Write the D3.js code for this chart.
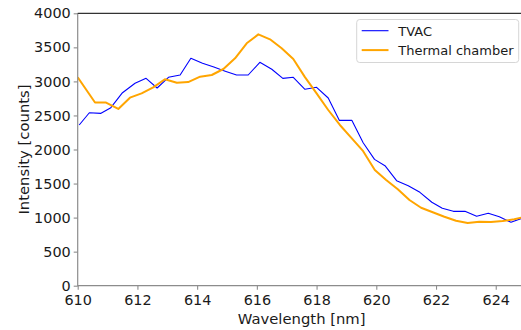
<!DOCTYPE html>
<html>
<head>
<meta charset="utf-8">
<script src="https://cdn.jsdelivr.net/npm/d3@7"></script>
<style>
  html, body { margin: 0; padding: 0; background: #fff; }
  svg { display: block; }
  text { font-family: "DejaVu Sans", sans-serif; }
</style>
</head>
<body>
<script>
// ---- data ----
const tvacWavelength = [610.05, 610.39, 610.78, 611.11, 611.50, 611.92, 612.29, 612.66, 613.04, 613.43,
  613.79, 614.18, 614.56, 614.94, 615.32, 615.71, 616.10, 616.50, 616.87, 617.22,
  617.61, 618.00, 618.39, 618.76, 619.18, 619.56, 619.94, 620.29, 620.68, 621.07,
  621.46, 621.86, 622.21, 622.58, 622.97, 623.36, 623.75, 624.12, 624.51, 624.90];
const tvacIntensity = [2360, 2540, 2531, 2614, 2834, 2972, 3045, 2903, 3060, 3094,
  3339, 3266, 3210, 3150, 3094, 3094, 3280, 3178, 3045, 3060,
  2884, 2913, 2756, 2428, 2428, 2100, 1855, 1762, 1542, 1468,
  1371, 1225, 1136, 1092, 1092, 1019, 1063, 1013, 931, 995];

const thermalWavelength = [610.00, 610.58, 610.95, 611.36, 611.75, 612.14, 612.53, 612.92, 613.32, 613.70,
  614.10, 614.49, 614.88, 615.27, 615.66, 616.05, 616.44, 616.83, 617.22, 617.61,
  618.00, 618.39, 618.78, 619.18, 619.56, 619.95, 620.33, 620.72, 621.11, 621.50,
  621.89, 622.28, 622.67, 623.06, 623.45, 623.84, 624.23, 624.62, 625.01];
const thermalIntensity = [3060, 2690, 2690, 2595, 2761, 2825, 2913, 3031, 2981, 2990,
  3069, 3094, 3182, 3339, 3559, 3691, 3618, 3486, 3329, 3063,
  2825, 2580, 2360, 2164, 1975, 1700, 1552, 1416, 1258, 1145,
  1078, 1013, 954, 921, 940, 935, 950, 975, 1013];

const xTicks = [610, 612, 614, 616, 618, 620, 622, 624];
const yTicks = [0, 500, 1000, 1500, 2000, 2500, 3000, 3500, 4000];
const seriesNames = ["TVAC", "Thermal chamber"];
const seriesColors = ["#0000ff", "#ffa500"];

// ---- layout ----
const W = 521, H = 330;
const L = 77.7, R = 525.6, T = 13.3, B = 285.7;
const FS = 14.4, FS_LABEL = 14.8, FS_LEG = 13;

const x = d3.scaleLinear().domain([610, 625]).range([L, R]);
const y = d3.scaleLinear().domain([0, 4000]).range([B, T]);

const svg = d3.select("body").append("svg").attr("width", W).attr("height", H);

svg.append("defs").append("clipPath").attr("id", "plotclip")
  .append("rect").attr("x", L).attr("y", T).attr("width", R - L).attr("height", B - T);

// lines
const series = [
  { name: seriesNames[0], color: seriesColors[0], xs: tvacWavelength, ys: tvacIntensity, w: 1.1 },
  { name: seriesNames[1], color: seriesColors[1], xs: thermalWavelength, ys: thermalIntensity, w: 2.0 }
];
const line = d3.line().x(d => x(d[0])).y(d => y(d[1]));
const g = svg.append("g").attr("clip-path", "url(#plotclip)");
series.forEach(s => {
  g.append("path")
    .datum(s.xs.map((v, i) => [v, s.ys[i]]))
    .attr("fill", "none")
    .attr("stroke", s.color)
    .attr("stroke-width", s.w)
    .attr("stroke-linejoin", "round")
    .attr("d", line);
});

// axes
const xAxis = svg.append("g").attr("transform", `translate(0,${B})`)
  .call(d3.axisBottom(x).tickValues(xTicks).tickSize(4).tickPadding(5).tickFormat(d3.format("d")));
const yAxis = svg.append("g").attr("transform", `translate(${L},0)`)
  .call(d3.axisLeft(y).tickValues(yTicks).tickSize(4).tickPadding(3).tickFormat(d3.format("d")));
[xAxis, yAxis].forEach(a => {
  a.select(".domain").remove();
  a.selectAll(".tick line").attr("stroke", "#8c8c8c").attr("stroke-width", 1.1);
  a.selectAll(".tick text").attr("fill", "#1a1a1a").style("font-size", FS + "px")
    .style("font-family", "'DejaVu Sans', sans-serif");
});

// spines
svg.append("line").attr("x1", L).attr("x2", L).attr("y1", T).attr("y2", B + 0.5)
  .attr("stroke", "#8c8c8c").attr("stroke-width", 1.2);
svg.append("line").attr("x1", L).attr("x2", R).attr("y1", B).attr("y2", B)
  .attr("stroke", "#8c8c8c").attr("stroke-width", 1.2);
svg.append("line").attr("x1", L).attr("x2", R).attr("y1", T).attr("y2", T)
  .attr("stroke", "#333333").attr("stroke-width", 1.2);

// axis labels
svg.append("text").attr("x", (L + R) / 2).attr("y", 323.5).attr("text-anchor", "middle")
  .attr("fill", "#1a1a1a").style("font-size", FS_LABEL + "px").text("Wavelength [nm]");
svg.append("text").attr("transform", `translate(29,${(T + B) / 2}) rotate(-90)`)
  .attr("text-anchor", "middle").attr("fill", "#1a1a1a").style("font-size", FS_LABEL + "px")
  .text("Intensity [counts]");

// legend
const lg = svg.append("g");
lg.append("rect").attr("x", 356.7).attr("y", 19.5).attr("width", 162).attr("height", 43)
  .attr("rx", 3).attr("fill", "#fff").attr("fill-opacity", 0.8)
  .attr("stroke", "#d6d6d6").attr("stroke-width", 1);
series.forEach((s, i) => {
  const yy = 30.7 + i * 19.4;
  lg.append("line").attr("x1", 361.7).attr("x2", 388.5).attr("y1", yy).attr("y2", yy)
    .attr("stroke", s.color).attr("stroke-width", s.w);
  lg.append("text").attr("x", 398.3).attr("y", yy + 4.8).attr("fill", "#1a1a1a")
    .style("font-size", FS_LEG + "px").text(s.name);
});
</script>
</body>
</html>
